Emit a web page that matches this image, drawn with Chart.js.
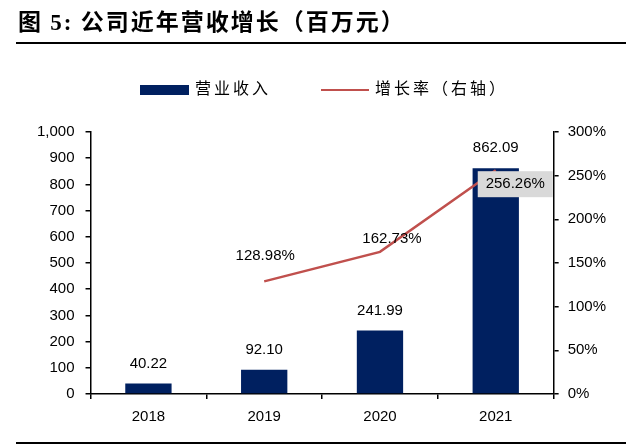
<!DOCTYPE html>
<html>
<head>
<meta charset="utf-8">
<script src="https://cdn.jsdelivr.net/npm/chart.js@4.4.0/dist/chart.umd.min.js"></script>
<style>
    html, body { margin: 0; padding: 0; background: #fff; }
    #wrap { position: relative; width: 640px; height: 448px; overflow: hidden; }
    #title { position: absolute; left: 18px; top: 3px; font: bold 23px "Noto Sans CJK SC", sans-serif; color: #000; letter-spacing: 2px; }
    #title .num { font-family: "Liberation Serif", serif; }
    .rule { position: absolute; left: 16px; width: 610px; height: 2px; background: #000; }
    #legend { position: absolute; top: 75px; left: 0; width: 640px; font: 16px "Noto Sans CJK SC", sans-serif; color: #000; letter-spacing: 3px; }
    .lg { position: absolute; top: 0; white-space: nowrap; }
    .sw { display: inline-block; vertical-align: middle; margin-right: 6px; }
    canvas { position: absolute; left: 0; top: 0; }
</style>
</head>
<body>
<div id="wrap">
    <canvas id="myChart" width="640" height="448"></canvas>
    <div id="title">图 <span class="num">5:</span> 公司近年营收增长（百万元）</div>
    <div class="rule" style="top:42px"></div>
    <div id="legend">
        <div class="lg" style="left:140px"><span class="sw" style="width:49px;height:10px;background:#002060"></span>营业收入</div>
        <div class="lg" style="left:321px"><span class="sw" style="width:48px;height:2px;background:#c0504d"></span>增长率（右轴）</div>
    </div>
    <div class="rule" style="top:442px"></div>
</div>
<script>
    var years = ['2018', '2019', '2020', '2021'];
    var revenue = [40.22, 92.10, 241.99, 862.09];
    var growth = [null, 128.98, 162.73, 256.26];
    var revenueTicks = [0, 100, 200, 300, 400, 500, 600, 700, 800, 900, 1000];
    var growthTicks = [0, 50, 100, 150, 200, 250, 300];

    // label offsets for the growth line (dx, dy from the point)
    var growthLabelPos = [null, { dx: 1, dy: -25 }, { dx: 12, dy: -13 }, { dx: 19.5, dy: 14, box: true }];

    var tickFont = { family: 'Liberation Sans, Arial, sans-serif', size: 15 };

    var valueLabels = {
        id: 'valueLabels',
        afterDatasetsDraw: function (chart) {
            var ctx = chart.ctx;
            ctx.save();
            ctx.font = '15px "Liberation Sans", Arial, sans-serif';
            ctx.textAlign = 'center';
            ctx.textBaseline = 'middle';
            ctx.fillStyle = '#000';
            // dataset 0 is the line, dataset 1 the bars
            chart.getDatasetMeta(1).data.forEach(function (bar, i) {
                ctx.fillText(revenue[i].toFixed(2), bar.x, bar.y - 20);
            });
            chart.getDatasetMeta(0).data.forEach(function (pt, i) {
                if (growth[i] === null) return;
                var p = growthLabelPos[i];
                var txt = growth[i].toFixed(2) + '%';
                var x = pt.x + p.dx, y = pt.y + p.dy;
                if (p.box) {
                    ctx.fillStyle = '#d9d9d9';
                    ctx.fillRect(x - 37.5, y - 13, 75, 26);
                    ctx.fillStyle = '#000';
                }
                ctx.fillText(txt, x, y);
            });
            ctx.restore();
        }
    };

    var ctx = document.getElementById('myChart');
    var myChart = new Chart(ctx, {
        data: {
            labels: years,
            datasets: [{
                type: 'line',
                label: '增长率（右轴）',
                data: growth,
                yAxisID: 'y1',
                borderColor: '#c0504d',
                borderWidth: 2.5,
                pointRadius: 0,
                fill: false,
                order: 0
            }, {
                type: 'bar',
                label: '营业收入',
                data: revenue,
                yAxisID: 'y',
                backgroundColor: '#002060',
                categoryPercentage: 1,
                barPercentage: 0.4,
                order: 1
            }]
        },
        options: {
            responsive: false,
            animation: false,
            layout: { padding: { top: 132, left: 26, right: 25, bottom: 13 } },
            plugins: {
                legend: { display: false },
                tooltip: { enabled: false }
            },
            scales: {
                x: {
                    grid: { drawOnChartArea: false, color: '#000', tickLength: 5, lineWidth: 1.5 },
                    border: { color: '#000', width: 1.5 },
                    ticks: { color: '#000', font: tickFont, padding: 9 }
                },
                y: {
                    position: 'left',
                    min: 0,
                    max: 1000,
                    afterBuildTicks: function (axis) {
                        axis.ticks = revenueTicks.map(function (v) { return { value: v }; });
                    },
                    grid: { drawOnChartArea: false, color: '#000', tickLength: 5, lineWidth: 1.5 },
                    border: { color: '#000', width: 1.5 },
                    ticks: { color: '#000', font: tickFont, padding: 11,
                        callback: function (v) { return v.toLocaleString('en-US'); } }
                },
                y1: {
                    position: 'right',
                    min: 0,
                    max: 300,
                    afterBuildTicks: function (axis) {
                        axis.ticks = growthTicks.map(function (v) { return { value: v }; });
                    },
                    grid: { drawOnChartArea: false, color: '#000', tickLength: 5, lineWidth: 1.5 },
                    border: { color: '#000', width: 1.5 },
                    ticks: { color: '#000', font: tickFont, padding: 9,
                        callback: function (v) { return v + '%'; } }
                }
            }
        },
        plugins: [valueLabels]
    });
</script>
</body>
</html>
